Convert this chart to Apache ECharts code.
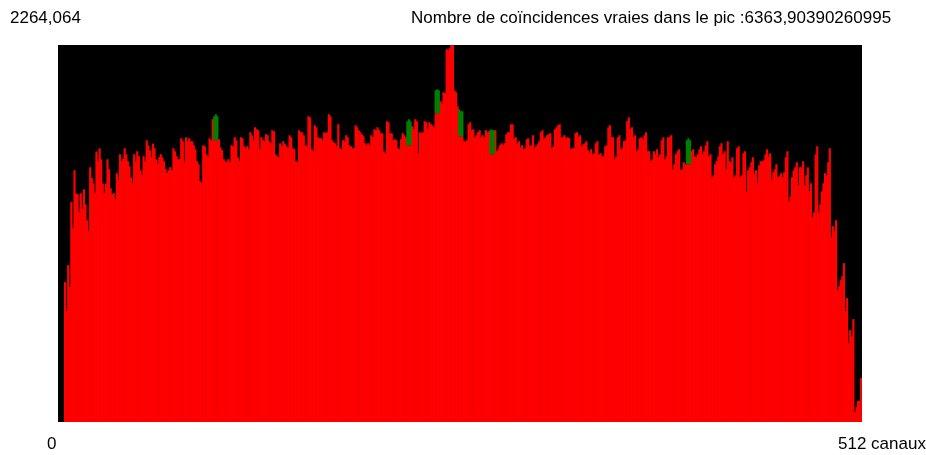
<!DOCTYPE html>
<html>
<head>
<meta charset="utf-8">
<script src="https://cdn.jsdelivr.net/npm/echarts@6/dist/echarts.min.js"></script>
<style>
  html, body { margin: 0; padding: 0; background: #ffffff; }
  #chart { width: 926px; height: 455px; }
</style>
</head>
<body>
<div id="chart"></div>
<script>
// Coincidence counts per channel (512 channels), stored in blocks by channel range.
const counts000to041 = [0,0,0,0,840,668,942,812,1320,1166,1512,1372,1368,1262,1374,1280,1398,1308,1212,1148,1530,1466,1432,1374,1624,1566,1644,1578,1432,1374,1432,1578,1518,1404,1368,1374,1338,1494,1454,1608,1566,1580];
const counts042to084 = [1644,1608,1566,1536,1468,1436,1608,1566,1626,1596,1512,1484,1596,1566,1692,1662,1632,1590,1672,1644,1578,1550,1590,1608,1590,1566,1520,1496,1512,1530,1512,1644,1626,1596,1578,1578,1704,1686,1560,1710,1686,1704,1686];
const counts085to128 = [1686,1662,1638,1566,1548,1446,1436,1662,1656,1608,1592,1704,1692,1818,1836,1848,1836,1698,1648,1632,1578,1566,1560,1578,1560,1662,1656,1710,1692,1590,1566,1710,1704,1656,1644,1656,1638,1740,1722,1692,1770,1758,1752,1638];
const counts129to171 = [1710,1692,1686,1728,1722,1686,1674,1752,1746,1608,1596,1590,1674,1656,1686,1668,1656,1644,1722,1710,1644,1638,1566,1560,1752,1740,1740,1722,1662,1656,1836,1830,1638,1626,1782,1770,1710,1704,1704,1692,1740,1734,1740];
const counts172to214 = [1848,1836,1692,1680,1674,1656,1788,1644,1638,1692,1686,1722,1710,1662,1656,1644,1644,1782,1770,1752,1740,1728,1716,1674,1662,1674,1662,1722,1710,1758,1752,1770,1752,1734,1734,1626,1614,1806,1800,1734,1734,1692,1698];
const counts215to258 = [1692,1644,1638,1698,1734,1722,1710,1806,1818,1806,1776,1758,1818,1806,1614,1740,1734,1740,1806,1800,1758,1800,1788,1782,1770,1992,1998,1992,1926,1914,1980,1974,2238,2232,2244,2264.064,2262,1992,1980,1896,1878,1866,1866,1686];
const counts259to301 = [1686,1692,1788,1800,1752,1758,1710,1722,1740,1752,1710,1722,1710,1752,1740,1746,1758,1752,1752,1752,1626,1638,1662,1674,1662,1674,1728,1740,1740,1788,1788,1704,1710,1674,1686,1650,1662,1638,1644,1698,1704,1656,1662];
const counts302to344 = [1722,1644,1656,1668,1686,1740,1752,1698,1710,1722,1728,1734,1644,1656,1758,1770,1782,1788,1710,1710,1722,1704,1710,1704,1638,1644,1644,1734,1740,1710,1722,1656,1668,1674,1686,1632,1620,1638,1608,1614,1674,1686,1608];
const counts345to388 = [1614,1596,1596,1656,1662,1770,1782,1710,1710,1578,1596,1710,1722,1638,1644,1686,1692,1806,1830,1758,1770,1710,1722,1626,1638,1704,1710,1698,1722,1740,1626,1626,1566,1578,1626,1608,1638,1590,1608,1692,1710,1578,1596,1710];
const counts389to431 = [1710,1722,1518,1548,1608,1626,1638,1512,1518,1560,1548,1692,1704,1692,1626,1638,1596,1590,1608,1638,1656,1608,1626,1662,1686,1596,1608,1470,1482,1548,1566,1596,1656,1674,1608,1626,1518,1686,1566,1560,1590,1470,1482];
const counts432to472 = [1644,1656,1470,1482,1614,1626,1386,1512,1530,1560,1590,1488,1512,1434,1542,1566,1566,1572,1608,1638,1596,1614,1452,1500,1518,1548,1470,1476,1494,1470,1500,1590,1626,1326,1356,1470,1512,1530,1560,1422,1530];
const counts473to511 = [1530,1566,1422,1482,1530,1386,1434,1230,1260,1608,1656,1260,1308,1386,1434,1494,1482,1560,1644,1110,1176,1146,1212,792,816,852,876,954,666,744,474,552,516,618,60,90,126,126,264];

// Channels drawn in green, with the level where the green part starts.
const markedChannels = [99,100,101,222,223,224,240,241,242,255,256,257,275,276,277,400,401,402];
const markedBase     = [1692,1692,1692,1662,1662,1662,1854,1854,1854,1716,1716,1716,1608,1608,1608,1548,1548,1548];

// Texts
const peakValue = 2264.064;
const peakLabel = '2264,064';
const titleText = 'Nombre de coïncidences vraies dans le pic :6363,90390260995';
const axisStartLabel = '0';
const axisEndLabel = '512 canaux';

const counts = [].concat(
  counts000to041, counts042to084, counts085to128, counts129to171,
  counts172to214, counts215to258, counts259to301, counts302to344,
  counts345to388, counts389to431, counts432to472, counts473to511
);
const channels = counts.map((_, i) => i);
const redData = counts.slice();
const greenData = counts.map(() => '-');
markedChannels.forEach((ch, k) => {
  redData[ch] = markedBase[k];
  greenData[ch] = +(counts[ch] - markedBase[k]).toFixed(3);
});

const FONT = '17px "Liberation Sans", Arial, sans-serif';

const chart = echarts.init(document.getElementById('chart'), null, { renderer: 'canvas' });
chart.setOption({
  animation: false,
  backgroundColor: '#ffffff',
  grid: {
    left: 58, top: 45, width: 804, height: 377,
    show: true, backgroundColor: '#000000', borderWidth: 0,
    containLabel: false
  },
  xAxis: {
    type: 'category', data: channels, show: false,
    boundaryGap: true
  },
  yAxis: {
    type: 'value', min: 0, max: peakValue, show: false
  },
  series: [
    {
      // bars slightly wider than a channel so neighbours overlap and leave no seams
      type: 'bar', stack: 'h', data: redData,
      barWidth: 2.2,
      itemStyle: { color: '#ff0000' },
      silent: true
    },
    {
      type: 'bar', stack: 'h', data: greenData,
      barWidth: 2.2,
      itemStyle: { color: '#008000' },
      silent: true
    }
  ],
  graphic: [
    { type: 'text', style: { text: peakLabel, x: 10, y: 18, font: FONT, fill: '#000', textAlign: 'left', textVerticalAlign: 'middle' } },
    { type: 'text', style: { text: titleText, x: 411, y: 18, font: FONT, fill: '#000', textAlign: 'left', textVerticalAlign: 'middle' } },
    { type: 'text', style: { text: axisStartLabel, x: 47, y: 444, font: FONT, fill: '#000', textAlign: 'left', textVerticalAlign: 'middle' } },
    { type: 'text', style: { text: axisEndLabel, x: 838, y: 444, font: FONT, fill: '#000', textAlign: 'left', textVerticalAlign: 'middle' } }
  ]
});
</script>
</body>
</html>
